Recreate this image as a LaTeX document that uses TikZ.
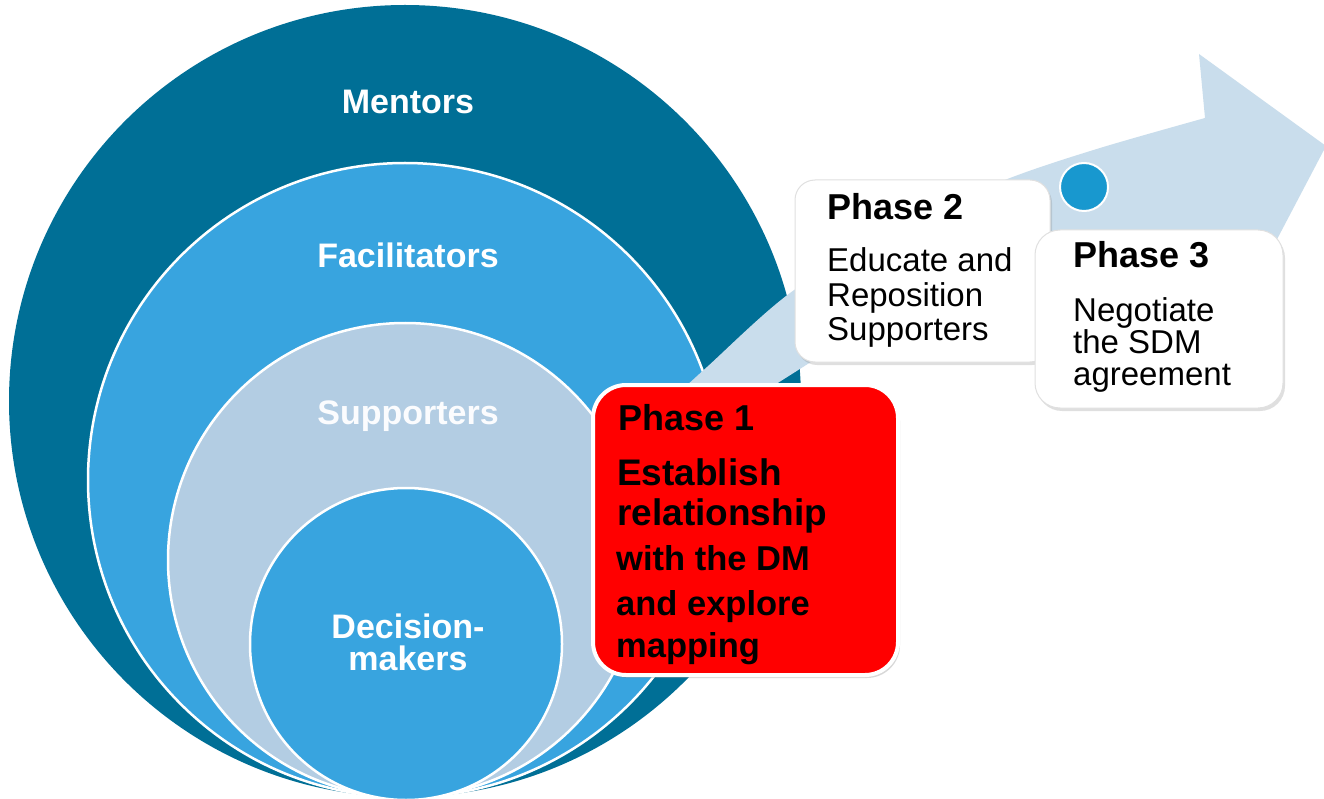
\documentclass[tikz,border=0pt]{standalone}
\usepackage{fontspec}
\setmainfont{Liberation Sans}
\usetikzlibrary{shadows}

\definecolor{mentorblue}{RGB}{0,111,150}
\definecolor{facilblue}{RGB}{56,164,223}
\definecolor{supportblue}{RGB}{179,205,227}
\definecolor{bandblue}{RGB}{201,221,236}
\definecolor{dotblue}{RGB}{24,152,207}

\tikzstyle{ring} = [draw=white, line width=2.5pt]
\tikzstyle{ringlabel} = [anchor=base, inner sep=0pt, text=white, font=\bfseries\fontsize{34}{40}\selectfont]
\tikzstyle{phasebox} = [rectangle, draw=black!12, line width=1pt, fill=white, drop shadow={opacity=0.25, shadow xshift=2pt, shadow yshift=-3pt}]
\tikzstyle{phasetitle} = [anchor=base west, inner sep=0pt, font=\bfseries\fontsize{36}{40}\selectfont]
\tikzstyle{phasetext} = [anchor=base west, inner sep=0pt, font=\fontsize{33}{36}\selectfont]
\tikzstyle{redtext} = [anchor=base west, inner sep=0pt, font=\bfseries\fontsize{34.5}{40}\selectfont]

\begin{document}
\begin{tikzpicture}[x=1pt, y=-1pt]
        \useasboundingbox (0, 0) rectangle (1324, 799);
        \fill[white] (0, 0) rectangle (1324, 799);

        % nested circles
        \fill[mentorblue] (405, 401) circle (396pt);
        \filldraw[ring, fill=facilblue] (405, 480) circle (317pt);
        \filldraw[ring, fill=supportblue] (405, 560) circle (237pt);
        \filldraw[ring, fill=facilblue] (406, 644) circle (156pt);

        \node[ringlabel] (Mentors) at (408, 114) {Mentors};
        \node[ringlabel] (Facilitators) at (408, 268) {Facilitators};
        \node[ringlabel, text=white!95!supportblue] (Supporters) at (408, 424) {Supporters};
        \node[ringlabel] (Decision) at (408, 638) {Decision-};
        \node[ringlabel] (Makers) at (408, 670) {makers};

        % curved arrow behind the phases
        \fill[bandblue] plot[smooth] coordinates {(660, 410) (707, 367) (790, 293) (900, 225) (1010, 178) (1100, 148) (1205, 118)}
            -- (1199, 54) -- (1326, 146) -- (1253, 285)
            -- plot[smooth] coordinates {(1235, 245) (1140, 240) (1045, 248) (950, 285) (870, 325) (803, 367) (760, 395) (700, 440)}
            -- cycle;
        \node[circle, fill=dotblue, draw=white, line width=2pt, minimum size=48pt, inner sep=0pt] (Dot) at (1084, 187) {};

        % phase 2
        \node[phasebox, rounded corners=20pt, minimum width=255pt, minimum height=182pt] (PhaseTwoBox) at (922.5, 271) {};
        \node[phasetitle] (PhaseTwo) at (827, 220) {Phase 2};
        \node[phasetext] (EducateAnd) at (827, 272) {Educate and};
        \node[phasetext] (Reposition) at (827, 307) {Reposition};
        \node[phasetext] (SupportersTwo) at (827, 341) {Supporters};

        % phase 3
        \node[phasebox, rounded corners=25pt, minimum width=248pt, minimum height=178pt] (PhaseThreeBox) at (1159, 319) {};
        \node[phasetitle] (PhaseThree) at (1073, 268) {Phase 3};
        \node[phasetext] (Negotiate) at (1073, 321) {Negotiate};
        \node[phasetext] (TheSDM) at (1073, 353) {the SDM};
        \node[phasetext] (Agreement) at (1073, 385) {agreement};

        % phase 1
        \node[rectangle, rounded corners=33pt, fill=red, draw=white, line width=4pt, minimum width=305pt, minimum height=290pt,
              drop shadow={opacity=0.3, shadow xshift=2pt, shadow yshift=-3pt}] (PhaseOneBox) at (745.5, 530) {};
        \node[redtext, font=\bfseries\fontsize{36}{40}\selectfont] (PhaseOne) at (618, 430) {Phase 1};
        \node[redtext, font=\bfseries\fontsize{37}{40}\selectfont] (Establish) at (617, 485) {Establish};
        \node[redtext, font=\bfseries\fontsize{37}{40}\selectfont] (Relationship) at (617, 525) {relationship};
        \node[redtext] (WithTheDM) at (616, 570) {with the DM};
        \node[redtext] (AndExplore) at (616, 615) {and explore};
        \node[redtext] (Mapping) at (616, 657) {mapping};
    \end{tikzpicture}
\end{document}
